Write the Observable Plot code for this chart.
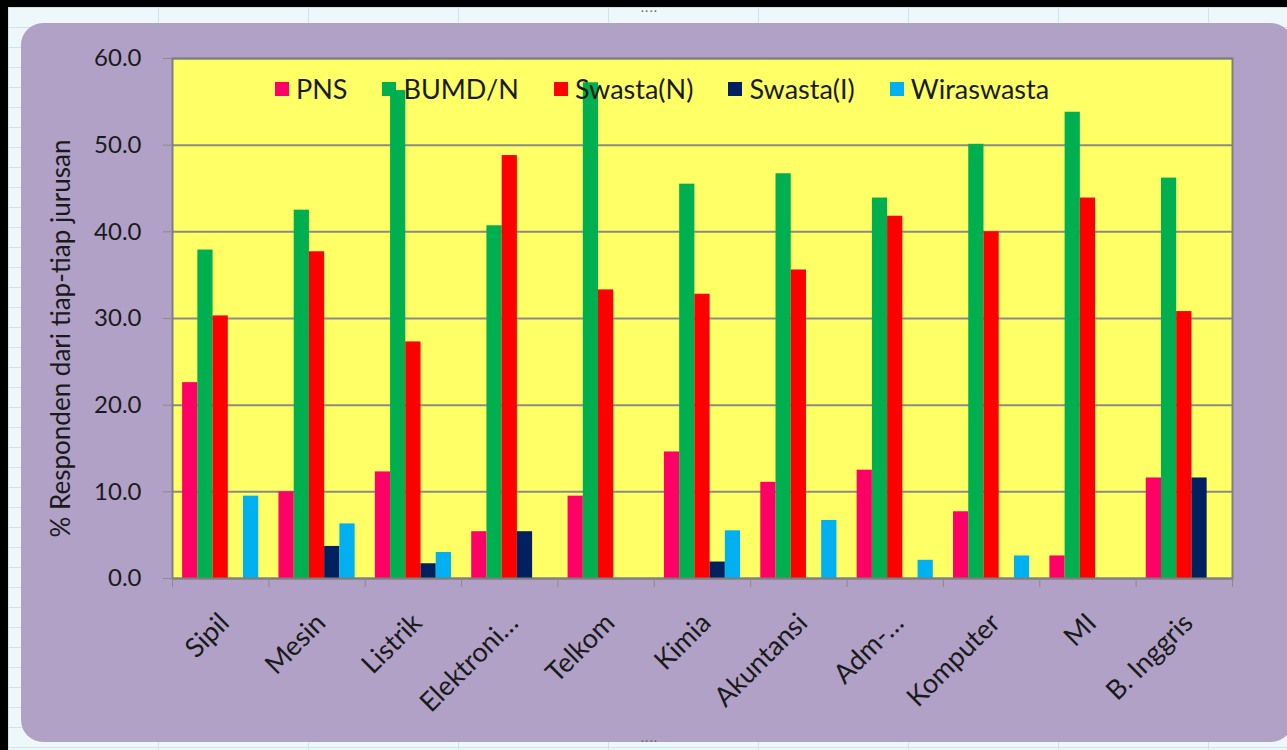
<!DOCTYPE html>
<html>
<head>
<meta charset="utf-8">
<script src="https://cdn.jsdelivr.net/npm/d3@7"></script>
<script src="https://cdn.jsdelivr.net/npm/@observablehq/plot@0.6"></script>
<style>
  html, body { margin: 0; padding: 0; background: #000; }
  #stage { position: relative; width: 1287px; height: 750px; overflow: hidden; background: #000; }
  #sheet { position: absolute; left: 8px; top: 7px; width: 1279px; height: 743px;
    background-color: #eef8fa;
    background-image:
      linear-gradient(to right, #cfe3ea 1px, transparent 1px),
      linear-gradient(to bottom, #cfe3ea 1px, transparent 1px);
    background-size: 150px 100%, 100% 20px; }
  #card { position: absolute; left: 21px; top: 23px; width: 1272px; height: 719px;
    background: #b1a1c7; border-radius: 22px; }
  #chart { position: absolute; left: 21px; top: 23px; }
  #legend { position: absolute; left: 275px; top: 72px; display: flex; align-items: center;
    font-family: Lato, "Open Sans", sans-serif; font-size: 27px; color: #1a1a1a; }
  #legend .item { display: flex; align-items: center; margin-right: 35px; }
  #legend .sw { width: 14px; height: 14px; margin-right: 7px; }
  .dots { position: absolute; color: #666; font: bold 10px sans-serif; letter-spacing: 1px; }
</style>
</head>
<body>
<div id="stage">
  <div id="sheet"></div>
  <div id="card"></div>
  <div id="chart"></div>
  <div id="legend"></div>
  <div class="dots" style="left:641px;top:6px;">····</div>
  <div class="dots" style="left:641px;top:736px;">····</div>
</div>
<script>
const categories = ["Sipil", "Mesin", "Listrik", "Elektroni…", "Telkom", "Kimia", "Akuntansi", "Adm-…", "Komputer", "MI", "B. Inggris"];
const seriesNames = ["PNS", "BUMD/N", "Swasta(N)", "Swasta(I)", "Wiraswasta"];
const pns        = [22.6, 10.0, 12.3, 5.4, 9.5, 14.6, 11.1, 12.5, 7.7, 2.6, 11.6];
const bumdn      = [37.9, 42.5, 56.3, 40.7, 57.2, 45.5, 46.7, 43.9, 50.1, 53.8, 46.2];
const swastaN    = [30.3, 37.7, 27.3, 48.8, 33.3, 32.8, 35.6, 41.8, 40.0, 43.9, 30.8];
const swastaI    = [0, 3.7, 1.7, 5.4, 0, 1.9, 0, 0, 0, 0, 11.6];
const wiraswasta = [9.5, 6.3, 3.0, 0, 0, 5.5, 6.7, 2.1, 2.6, 0, 0];
const yTicks = [0, 10, 20, 30, 40, 50, 60];
const yTitle = "% Responden dari tiap-tiap jurusan";

const colors = ["#ff0066", "#00b050", "#ff0000", "#002060", "#00b0f0"];
const barFrac = 0.158;
const groupPad = (1 - seriesNames.length * barFrac) / 2;

const seriesValues = [pns, bumdn, swastaN, swastaI, wiraswasta];
const rows = [];
categories.forEach((c, i) => {
  seriesNames.forEach((s, j) => {
    const v = seriesValues[j][i];
    if (v > 0) rows.push({cat: c, i, series: s, j, value: v});
  });
});

const chart = Plot.plot({
  width: 1266,
  height: 719,
  marginLeft: 151,
  marginRight: 55,
  marginTop: 35,
  marginBottom: 164,
  style: {fontFamily: "Lato, 'Open Sans', sans-serif", fontSize: "24px", background: "transparent", color: "#1a1a1a"},
  x: {type: "linear", domain: [0, categories.length], axis: null},
  y: {domain: [0, 60], axis: null},
  color: {domain: seriesNames, range: colors},
  marks: [
    Plot.frame({fill: "#ffff66"}),
    Plot.ruleY(yTicks, {stroke: "#8a8a8a", strokeWidth: 2}),
    Plot.rectY(rows, {
      x1: d => d.i + groupPad + d.j * barFrac,
      x2: d => d.i + groupPad + (d.j + 1) * barFrac,
      y: "value",
      fill: "series"
    }),
    Plot.frame({stroke: "#7f7f7f", strokeWidth: 2}),
    Plot.axisY({ticks: yTicks, label: null, tickFormat: d3.format(".1f"), tickSize: 9, tickPadding: 22, stroke: "#8a8a8a", fill: "#1a1a1a", fontSize: 24}),
    Plot.axisX({ticks: d3.range(categories.length + 1), label: null, tickFormat: () => "", tickSize: 9, stroke: "#8a8a8a"}),
    Plot.text(categories, {
      x: (d, i) => i + 0.5, y: 0, rotate: -45, textAnchor: "end", lineAnchor: "middle",
      dx: 4, dy: 40, fontSize: 27, fill: "#1a1a1a"
    }),
    Plot.text([yTitle], {frameAnchor: "left", textAnchor: "middle", dx: -111, dy: 20, rotate: -90, fontSize: 26, fill: "#1a1a1a"})
  ]
});
document.getElementById("chart").appendChild(chart);

const legend = document.getElementById("legend");
seriesNames.forEach((s, j) => {
  const item = document.createElement("div");
  item.className = "item";
  const sw = document.createElement("div");
  sw.className = "sw";
  sw.style.background = colors[j];
  const t = document.createElement("span");
  t.textContent = s;
  item.appendChild(sw);
  item.appendChild(t);
  legend.appendChild(item);
});
</script>
</body>
</html>
